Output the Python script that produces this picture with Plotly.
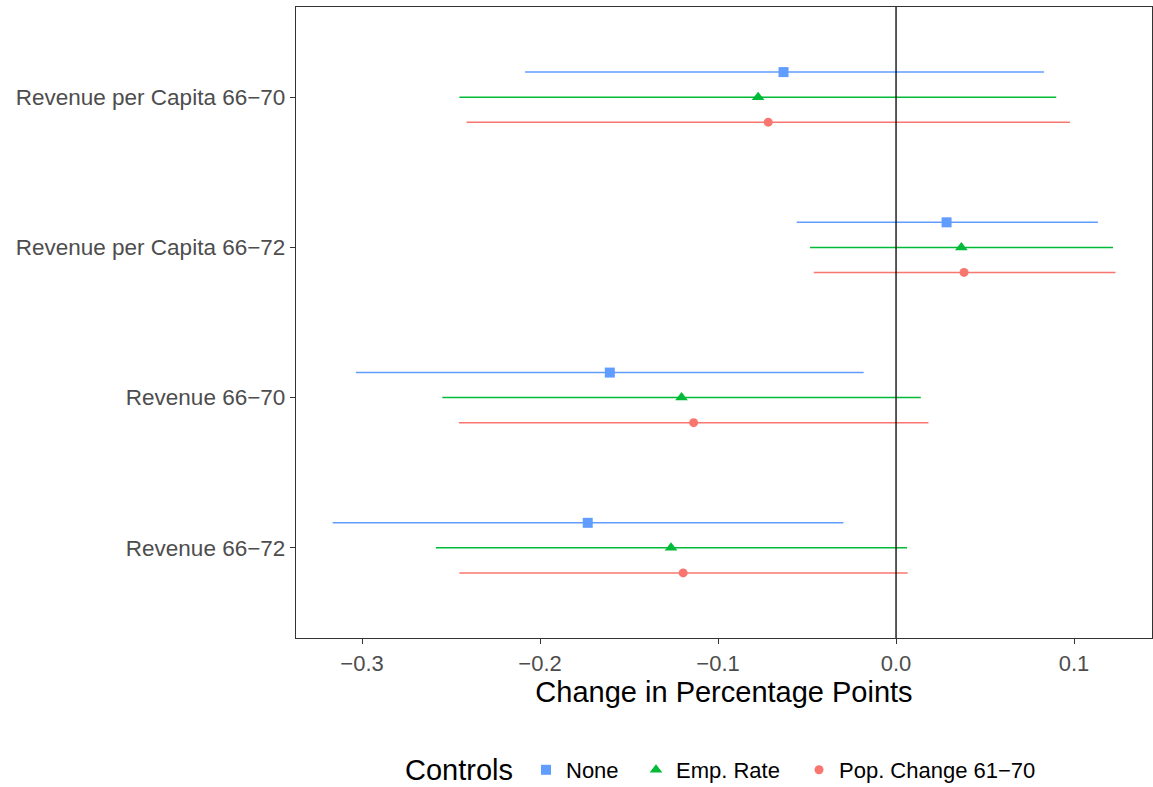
import plotly.graph_objects as go

categories = ["Revenue 66\u221272", "Revenue 66\u221270", "Revenue per Capita 66\u221272", "Revenue per Capita 66\u221270"]
series = ["None", "Emp. Rate", "Pop. Change 61\u221270"]

# estimates and confidence intervals, in category order above
none_est = [-0.1732, -0.1608, 0.0284, -0.0632]
none_lo = [-0.3165, -0.3035, -0.0558, -0.2084]
none_hi = [-0.0296, -0.0182, 0.1134, 0.0831]

emp_est = [-0.1264, -0.1205, 0.0367, -0.0775]
emp_lo = [-0.2585, -0.2549, -0.0483, -0.2453]
emp_hi = [0.0062, 0.0139, 0.1219, 0.0900]

pop_est = [-0.1196, -0.1137, 0.0382, -0.0718]
pop_lo = [-0.2453, -0.2456, -0.0462, -0.2413]
pop_hi = [0.0065, 0.0182, 0.1233, 0.0977]

colors = ["#619CFF", "#00BA38", "#F8766D"]
symbols = ["square", "triangle-up", "circle"]
sizes = [10, 11, 9]
dodge = [1 / 6, 0.0, -1 / 6]
legend_ids = ["legend", "legend2", "legend3"]
legend_left_px = [526, 636, 799]

fig = go.Figure()
data = [(none_est, none_lo, none_hi), (emp_est, emp_lo, emp_hi), (pop_est, pop_lo, pop_hi)]
for i, (est, lo, hi) in enumerate(data):
    ys = [k + 1 + dodge[i] for k in range(len(categories))]
    fig.add_trace(go.Scatter(
        x=est, y=ys, mode="markers", name=series[i], legend=legend_ids[i],
        marker=dict(symbol=symbols[i], size=sizes[i], color=colors[i]),
        error_x=dict(type="data", symmetric=False,
                     array=[h - e for h, e in zip(hi, est)],
                     arrayminus=[e - l for e, l in zip(est, lo)],
                     color=colors[i], thickness=1.5, width=0),
    ))

fig.add_shape(type="line", x0=0, x1=0, y0=0, y1=1, xref="x", yref="paper",
              line=dict(color="black", width=1.3), layer="above")

fig.add_annotation(text="Controls", xref="paper", yref="paper", x=(403 - 296) / 856, y=-0.2092,
                   xanchor="left", yanchor="middle", showarrow=False,
                   font=dict(size=29, color="black"))

leg_common = dict(orientation="h", xanchor="left", y=-0.2092, yanchor="middle",
                  font=dict(size=22, color="black"), bgcolor="rgba(0,0,0,0)")
fig.update_layout(
    width=1153, height=787,
    margin=dict(l=296, r=1, t=7, b=149, autoexpand=False),
    plot_bgcolor="white", paper_bgcolor="white",
    font=dict(family="Liberation Sans, Arial, sans-serif"),
    showlegend=True,
    legend=dict(x=(legend_left_px[0] - 296) / 856, **leg_common),
    legend2=dict(x=(legend_left_px[1] - 296) / 856, **leg_common),
    legend3=dict(x=(legend_left_px[2] - 296) / 856, **leg_common),
)
fig.update_xaxes(
    range=[-0.3371, 0.1438], tickvals=[-0.3, -0.2, -0.1, 0.0, 0.1],
    ticktext=["\u22120.3", "\u22120.2", "\u22120.1", "0.0", "0.1"],
    showgrid=False, zeroline=False, showline=True, mirror=True,
    linecolor="#333333", linewidth=1.3, ticks="outside", ticklen=5,
    tickcolor="#333333", tickwidth=1.2, automargin=False,
    tickfont=dict(size=22, color="#4D4D4D"),
    title=dict(text="Change in Percentage Points", font=dict(size=29, color="black"), standoff=6),
)
fig.update_yaxes(
    range=[0.4, 4.6], tickvals=[1, 2, 3, 4], ticktext=categories,
    showgrid=False, zeroline=False, showline=True, mirror=True,
    linecolor="#333333", linewidth=1.3, ticks="outside", ticklen=5,
    tickcolor="#333333", tickwidth=1.2, automargin=False,
    tickfont=dict(size=22.5, color="#4D4D4D"),
)

fig.write_html("out.html", config={"displayModeBar": False},
               post_script="document.body.style.margin='0';document.body.style.overflow='hidden';")
